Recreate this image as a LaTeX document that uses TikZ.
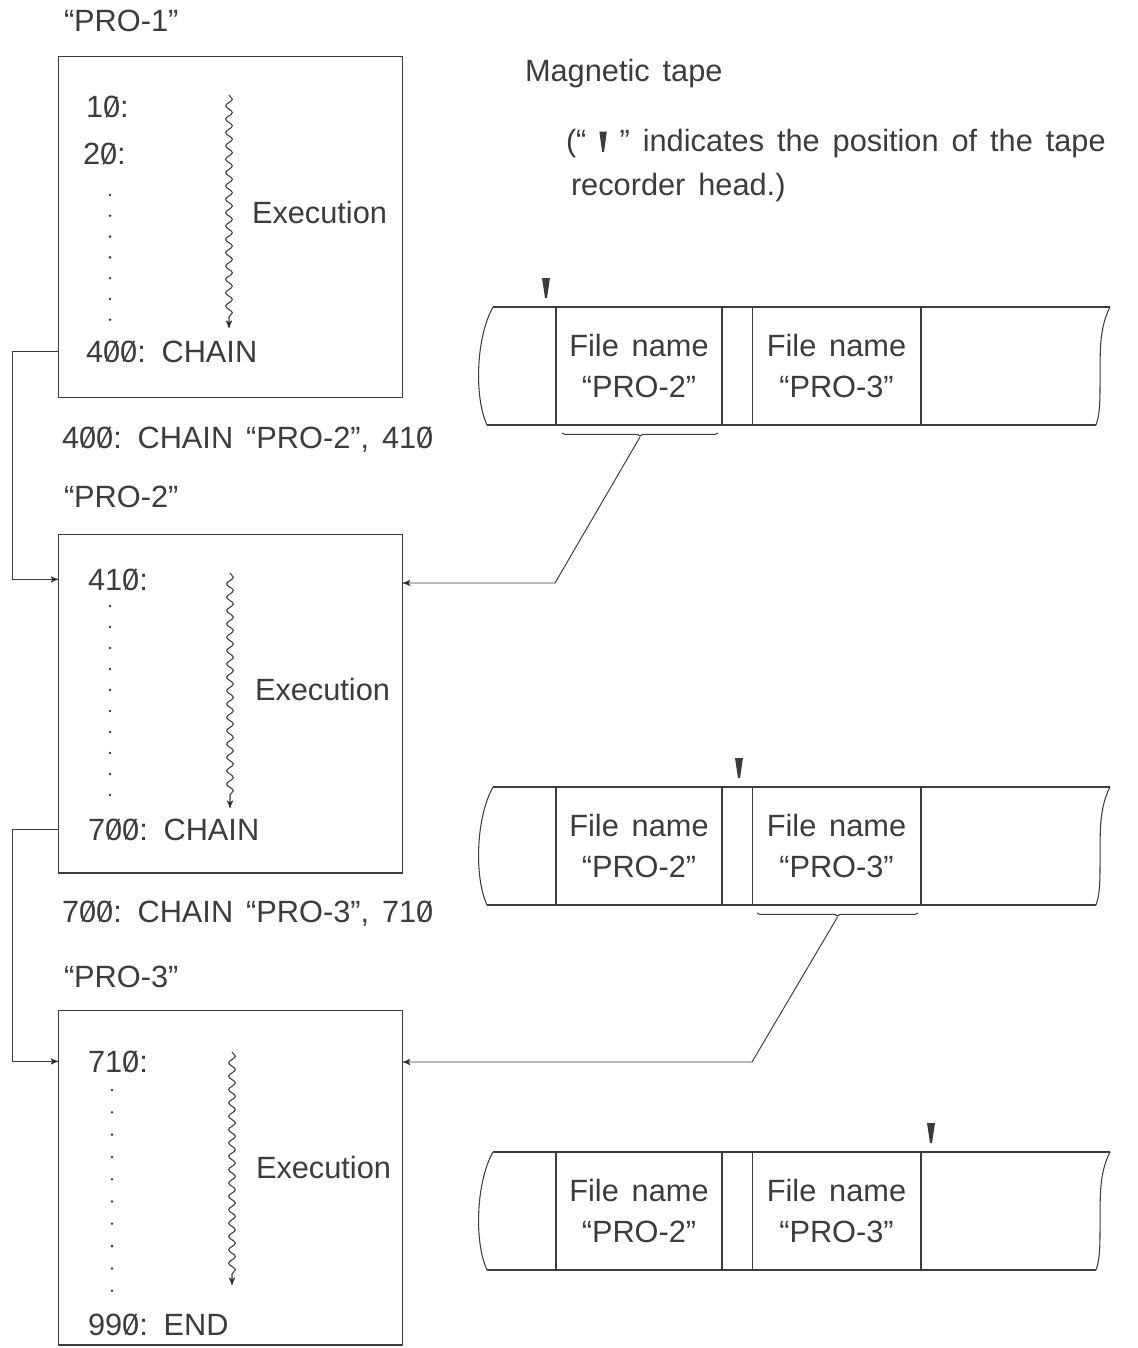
\documentclass[tikz,border=0pt]{standalone}
\usepackage{fontspec}
\setmainfont{Liberation Sans}
\usetikzlibrary{arrows,positioning,decorations.pathmorphing,decorations.pathreplacing}
\definecolor{ink}{HTML}{3C3C3C}
% slashed zero as printed in the listing: a plain 0 with a drawn stroke
\newcommand{\zr}{0\llap{\tikz[baseline=0pt]{\useasboundingbox (0em,0em) rectangle (0.556em,0.7em);
    \draw[ink,line width=0.05em] (0.1em,0.02em) -- (0.46em,0.69em);}}}
% wider word spaces, as in the printed figure
\newcommand{\widesp}{\spaceskip=0.42em plus 0.1em\relax}
% tape recorder head mark used inside the note
\newcommand{\headmark}{\tikz[baseline=0pt]\fill[ink] (-0.12em,0.66em) -- (0.12em,0.66em) -- (0.03em,0em) -- (-0.03em,0em) -- cycle;}

\begin{document}
\begin{tikzpicture}[x=0.02cm,y=-0.02cm,>=stealth',line width=0.6pt,
    every node/.style={font=\fontsize{17.5}{23}\selectfont\widesp,text=ink,inner sep=0pt,outer sep=0pt},
    lbl/.style={anchor=base west},
    prog box/.style={draw=ink,minimum width=6.9cm},
    tape cell/.style={draw=ink,minimum width=3.32cm,minimum height=2.36cm,align=center},
    exec wave/.style={->,draw=ink,decorate,decoration={snake,amplitude=1.9pt,segment length=7.6pt,post length=1.5mm}},
    under brace/.style={draw=ink,decorate,decoration={brace,mirror,amplitude=1.6pt}},
    link/.style={->,draw=ink,line width=0.55pt}]

  \useasboundingbox (0,0) rectangle (1138,1348);

  % program PRO-1
  \node[lbl] (pro1) at (64,32) {“PRO-1”};
  \node[prog box,minimum height=6.84cm] (boxA) at (230.5,227) {};
  \node[lbl] (l10) at (86,118) {1\zr:};
  \node[lbl] (l20) at (83,165) {2\zr:};
  \foreach \d in {0,...,6} \fill[ink] (110,195+\d*20.8) circle (0.8pt);
  \draw[exec wave] (229,95) -- (229,328);
  \node[lbl] (execA) at (252,223) {Execution};
  \node[lbl] (chainA) at (86,362) {4\zr\zr: CHAIN};
  \node[lbl] (callA) at (62,448) {4\zr\zr: CHAIN “PRO-2”, 41\zr};

  % program PRO-2
  \node[lbl] (pro2) at (64,507) {“PRO-2”};
  \node[prog box,minimum height=6.78cm] (boxB) at (230.5,703.5) {};
  \node[lbl] (l410) at (88,590) {41\zr:};
  \foreach \d in {0,...,9} \fill[ink] (110,606+\d*21) circle (0.8pt);
  \draw[exec wave] (230,573) -- (230,808);
  \node[lbl] (execB) at (255,700) {Execution};
  \node[lbl] (chainB) at (88,840) {7\zr\zr: CHAIN};
  \node[lbl] (callB) at (62,922) {7\zr\zr: CHAIN “PRO-3”, 71\zr};

  % program PRO-3
  \node[lbl] (pro3) at (64,987) {“PRO-3”};
  \node[prog box,minimum height=6.7cm] (boxC) at (230.5,1177.5) {};
  \node[lbl] (l710) at (88,1072) {71\zr:};
  \foreach \d in {0,...,9} \fill[ink] (112,1090+\d*22.3) circle (0.8pt);
  \draw[exec wave] (232,1052) -- (232,1285);
  \node[lbl] (execC) at (256,1178) {Execution};
  \node[lbl] (endC) at (88,1335) {99\zr: END};

  % chaining on the left
  \draw[link] (boxA.west |- chainA.west) -- ++(-46,0) |- (boxB.west |- l410.west);
  \draw[link] (boxB.west |- chainB.west) -- ++(-46,0) |- (boxC.west |- l710.west);

  % magnetic tape note
  \node[lbl] (tapelbl) at (525,82) {Magnetic tape};
  \node[lbl] (note1) at (566,152) {(“ \headmark\ ” indicates the position of the tape};
  \node[lbl] (note2) at (571,195) {recorder head.)};

  % the three tapes
  \foreach \t/\y/\m in {1/307/546, 2/787/739, 3/1152/931} {
    \node[tape cell] (fa\t) at (639,\y+59) {File name\\“PRO-2”};
    \node[tape cell,minimum width=3.38cm] (fb\t) at (836.5,\y+59) {File name\\“PRO-3”};
    \draw[ink] (493,\y) -- (1110,\y);
    \draw[ink] (487,\y+118) -- (1096,\y+118);
    \draw[ink] (493,\y) .. controls (476,\y+30) and (474,\y+90) .. (487,\y+118);
    \draw[ink] (1110,\y) .. controls (1097,\y+25) and (1101,\y+55) .. (1100,\y+80)
               .. controls (1100,\y+100) and (1099,\y+110) .. (1096,\y+118);
    \fill[ink] (\m-4,\y-29) -- (\m+4,\y-29) -- (\m+1,\y-9) -- (\m-1,\y-9) -- cycle;
  }

  % loading from tape
  \draw[under brace] ([shift={(6,8)}]fa1.south west) -- ([shift={(-4,8)}]fa1.south east);
  \coordinate (tipA) at ([shift={(1,12)}]fa1.south);
  \coordinate (kneeA) at (555,583);
  \draw[link] (tipA) -- (kneeA) -- (boxB.east |- kneeA);

  \draw[under brace] ([shift={(5,8)}]fb2.south west) -- ([shift={(-3,8)}]fb2.south east);
  \coordinate (tipB) at ([shift={(1,12)}]fb2.south);
  \coordinate (kneeB) at (752,1062);
  \draw[link] (tipB) -- (kneeB) -- (boxC.east |- kneeB);
\end{tikzpicture}
\end{document}
